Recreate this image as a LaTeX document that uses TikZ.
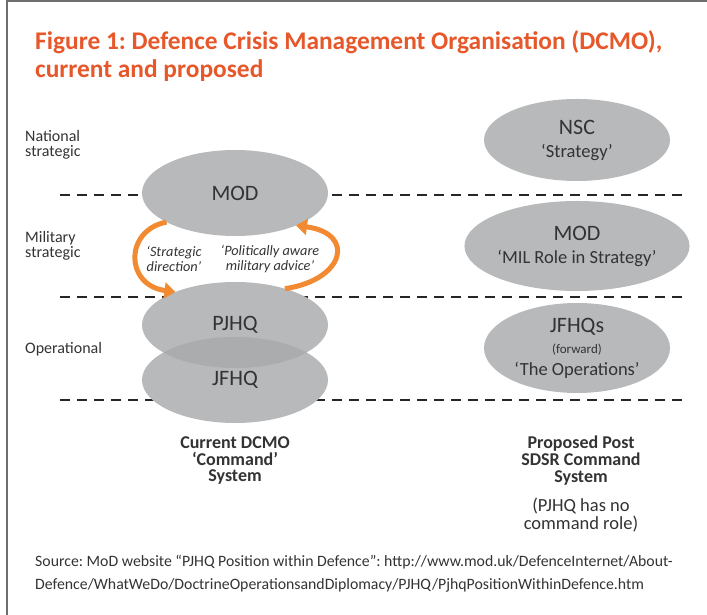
\documentclass[tikz,border=0pt]{standalone}
\usepackage{fontspec}
\setmainfont{Carlito}
\usetikzlibrary{shapes.geometric, arrows.meta}
\definecolor{dcmoorange}{HTML}{E6572A}
\definecolor{floworange}{HTML}{F18A30}
\definecolor{ellgray}{HTML}{B8B9BB}
\definecolor{overlapgray}{HTML}{ABACAE}
\definecolor{inkgray}{HTML}{333333}
\definecolor{framegray}{HTML}{6D6E70}

\frenchspacing
\tikzset{
  body/.style={ellipse, fill=ellgray, inner sep=0pt, outer sep=0pt,
    minimum width=186pt, minimum height=86pt, text=inkgray, align=center,
    font=\fontsize{22}{23}\selectfont},
  level/.style={anchor=north west, align=left, inner sep=0pt, text=inkgray,
    font=\fontsize{16}{15}\selectfont},
  tier/.style={dash pattern=on 10pt off 7pt, line width=1.8pt, draw=black!85},
  flow/.style={floworange, line width=5pt, -{Triangle[length=11pt, width=16pt]}},
  advice/.style={align=center, inner sep=0pt, text=inkgray,
    font=\fontsize{14.3}{14.5}\selectfont\itshape},
  caption/.style={align=center, inner sep=0pt, text=inkgray,
    font=\fontsize{18}{16.5}\selectfont\bfseries}
}
\newcommand{\sublabel}[1]{{\fontsize{18.5}{19}\selectfont #1}}

\begin{document}
\begin{tikzpicture}[x=1pt, y=1pt]
  \useasboundingbox (0,0) rectangle (707,615);
  % frame
  \draw[framegray, line width=1.5pt] (7,0) -- (7,614) -- (707,614);

  % title
  \node[anchor=north west, align=left, inner sep=0pt, text=dcmoorange,
    font=\fontsize{25.4}{28}\selectfont\bfseries] (title) at (35,585)
    {Figure 1: Defence Crisis Management Organisation (DCMO),\\current and proposed};

  % levels
  \node[level] (national) at (25,485) {National\\strategic};
  \node[level] (military) at (25,384) {Military\\strategic};
  \node[level] (operational) at (25,273) {Operational};

  \draw[tier] (60,420) -- (682,420);
  \draw[tier] (60,318) -- (682,318);
  \draw[tier] (60,215) -- (682,215);

  % current system
  \node[body] (mod) at (235,422) {MOD};
  \node[body] (jfhq) at (235,235) {JFHQ};
  \node[body] (pjhq) at (235,290) {PJHQ};
  \begin{scope}
    \clip (pjhq.center) ellipse [x radius=93, y radius=43];
    \fill[overlapgray] (jfhq.center) ellipse [x radius=93, y radius=43];
  \end{scope}

  \draw[flow] (mod.203) .. controls +(-42,-8) and +(-51,7) .. (pjhq.151);
  \draw[flow] (pjhq.36) .. controls +(60,9) and +(60,-8) .. (mod.332);

  \node[advice] (direction) at (174,356) {‘Strategic\\direction’};
  \node[advice] (awareness) at (270,356) {‘Politically aware\\military advice’};

  \node[caption] (current) at (235,154) {Current DCMO\\‘Command’\\System};

  % proposed system
  \node[body, minimum height=82pt] (nsc) at (577,475)
    {NSC\\\sublabel{‘Strategy’}};
  \node[body, minimum height=90pt] (modnew) at (577,369)
    {MOD\\\sublabel{‘MIL Role in Strategy’}};
  \node[body, minimum height=90pt] (jfhqs) at (577,267)
    {JFHQs\\[-2pt]{\fontsize{13}{13}\selectfont (forward)}\\[-1pt]\sublabel{‘The Operations’}};

  \node[caption, font=\fontsize{18}{17}\selectfont\bfseries] (proposed) at (581,154)
    {Proposed Post\\SDSR Command\\System};
  \node[align=center, inner sep=0pt, text=inkgray,
    font=\fontsize{18.5}{18.5}\selectfont] (pjhqnote) at (581,100)
    {(PJHQ has no\\command role)};

  % source line
  \node[anchor=north west, align=left, inner sep=0pt, text=inkgray,
    font=\fontsize{15.8}{23}\selectfont] (source) at (35,60)
    {Source: MoD website “PJHQ Position within Defence”: http://www.mod.uk/DefenceInternet/About-\\
     Defence/WhatWeDo/DoctrineOperationsandDiplomacy/PJHQ/PjhqPositionWithinDefence.htm};
\end{tikzpicture}
\end{document}
